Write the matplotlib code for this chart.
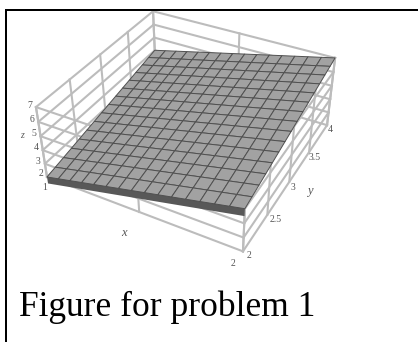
import numpy as np
import matplotlib
matplotlib.use("Agg")
import matplotlib.pyplot as plt

# ==== DATA ====
X_TICKS = [1, 1.5, 2]
Y_TICKS = [2, 2.5, 3, 3.5, 4]
Z_TICKS = [2, 3, 4, 5, 6, 7]
X_CELLS = 15
Y_CELLS = 15
# tick labels: text, pixel x, pixel y
X_LABELS = [("1", 45, 188), ("2", 233, 263)]
Y_LABELS = [("2", 249, 256), ("2.5", 276, 220), ("3", 293, 187), ("3.5", 315, 158), ("4", 330, 130)]
Z_LABELS = [("7", 30, 106), ("6", 32, 120), ("5", 34, 134), ("4", 36, 148), ("3", 38, 161), ("2", 41, 174)]
CAPTION = "Figure for problem 1"

WALL = "#bcbcbc"
W, H = 418, 342


def surface(x, y):
    return 3 * x + y - 3


fig = plt.figure(figsize=(W / 100, H / 100), dpi=100)
ax = fig.add_axes([37.0 / W, 69.6 / H, 303 / W, 303 / H], projection="3d", computed_zorder=False)
ax.set_xlim(1, 2)
ax.set_ylim(2, 4)
ax.set_zlim(2, 7)
ax.view_init(elev=35.95, azim=-61.21, roll=0.55)
ax.set_proj_type("persp", focal_length=0.463)
ax.set_box_aspect((1, 0.983, 0.395))
ax.set_axis_off()


def wall(xs, ys, zs):
    ax.plot(xs, ys, zs, color=WALL, lw=1.5, zorder=1, clip_on=False)


# box walls, all sit behind the surface
x0, x1 = X_TICKS[0], X_TICKS[-1]
y0, y1 = Y_TICKS[0], Y_TICKS[-1]
z0, z1 = Z_TICKS[0], Z_TICKS[-1]
for z in Z_TICKS:
    wall([x0, x0], [y0, y1], [z, z])
    wall([x1, x1], [y0, y1], [z, z])
    wall([x0, x1], [y0, y0], [z, z])
    wall([x0, x1], [y1, y1], [z, z])
for y in Y_TICKS:
    wall([x0, x0], [y, y], [z0, z1])
    wall([x1, x1], [y, y], [z0, z1])
for x in X_TICKS:
    wall([x, x], [y0, y0], [z0, z1])
    wall([x, x], [y1, y1], [z0, z1])

# thick front edge of the sheet
xe = np.array([x0, x1])
band_x = np.array([xe, xe])
band_y = np.full((2, 2), y0)
band_z = np.array([surface(xe, y0) + 0.08, surface(xe, y0) - 0.5])
ax.plot_surface(band_x, band_y, band_z, color="#585858", shade=False, linewidth=0, zorder=2)

# the sheet
xg, yg = np.meshgrid(np.linspace(x0, x1, X_CELLS + 1), np.linspace(y0, y1, Y_CELLS + 1))
ax.plot_surface(xg, yg, surface(xg, yg), rstride=1, cstride=1, color="#a2a2a2", shade=False,
                edgecolor="#505050", linewidth=0.7, zorder=3)

# labels
def small(label, px, py, **kw):
    fig.text(px / W, 1 - py / H, label, family="Liberation Serif", fontsize=7, color="#555555",
             ha="center", va="center", **kw)


for label, px, py in X_LABELS + Y_LABELS + Z_LABELS:
    small(label, px, py)
small("z", 22, 135, style="italic")
fig.text(124 / W, 1 - 233 / H, "x", family="Liberation Serif", fontsize=9, style="italic", color="#555555", ha="center", va="center")
fig.text(310 / W, 1 - 191 / H, "y", family="Liberation Serif", fontsize=9, style="italic", color="#555555", ha="center", va="center")

# caption and the black frame on top and left
fig.text(19 / W, 1 - 316 / H, CAPTION, family="Liberation Serif", fontsize=25.5, color="black", ha="left", va="baseline")
fig.add_artist(plt.Rectangle((5 / W, 0), 2 / W, (H - 9) / H, transform=fig.transFigure, color="black", lw=0))
fig.add_artist(plt.Rectangle((5 / W, 1 - 11 / H), (W - 5) / W, 2 / H, transform=fig.transFigure, color="black", lw=0))

fig.savefig("out.png", dpi=100)
